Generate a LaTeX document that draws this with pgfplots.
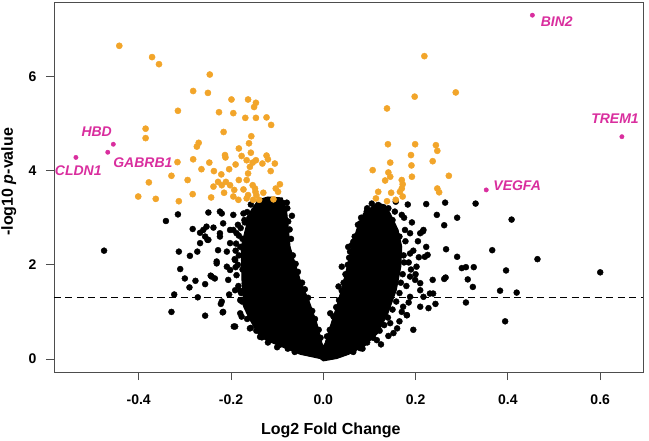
\documentclass[border=0pt]{standalone}
\usepackage{pgfplots}
\pgfplotsset{compat=1.18}
\usepackage{fontspec}
\setmainfont{Liberation Sans}
\definecolor{sigorange}{HTML}{F2A52A}
\definecolor{genepink}{HTML}{D92E9E}
\definecolor{framegray}{HTML}{4D4D4D}
\begin{document}
\begin{tikzpicture}
\path[use as bounding box] (-54bp,-69bp) rectangle (595bp,372bp);
\begin{axis}[
  scale only axis, width=589bp, height=370bp,
  xmin=-0.5835, xmax=0.6927, ymin=-0.276, ymax=7.58,
  axis line style={framegray, line width=0.9bp},
  tick style={framegray, line width=0.9bp},
  tick align=outside, major tick length=8bp,
  xtick={-0.4,-0.2,0,0.2,0.4,0.6}, ytick={0,2,4,6},
  xtick pos=bottom, ytick pos=left,
  xticklabel style={yshift=-11bp, /pgf/number format/.cd, fixed, fixed zerofill, precision=1, assume math mode=true},
  yticklabel style={xshift=-6bp, /pgf/number format/assume math mode=true},
  ticklabel style={font=\fontsize{14bp}{16bp}\selectfont\bfseries},
  xlabel={\textbf{Log2 Fold Change}},
  ylabel={\textbf{-log10 \textit{p}-value}},
  label style={font=\fontsize{16bp}{18bp}\selectfont},
  xlabel style={at={(axis description cs:0.470,-0.157)}, anchor=center},
  ylabel style={at={(axis description cs:-0.077,0.514)}, anchor=center},
  clip=false,
]
% dense core of the black cloud
\addplot[fill=black, draw=black, line width=1bp, line join=round] coordinates {
(0,-0.04) (-0.007,0.01) (-0.050,0.10) (-0.087,0.25) (-0.115,0.36) (-0.137,0.47)
(-0.160,0.85) (-0.172,1.10) (-0.176,1.60) (-0.178,2.38) (-0.160,3.10) (-0.141,3.38)
(-0.120,3.44) (-0.089,3.42) (-0.079,3.10) (-0.072,2.38) (-0.050,1.68) (-0.029,1.18)
(-0.014,0.76) (-0.003,0.34) (0,0.26) (0.004,0.34) (0.015,0.69) (0.030,1.15)
(0.040,1.50) (0.050,1.89) (0.058,2.24) (0.072,2.74) (0.087,3.09) (0.116,3.31) (0.134,3.27)
(0.145,3.09) (0.162,2.74) (0.170,2.38) (0.168,1.96) (0.158,1.46) (0.140,0.97)
(0.118,0.55) (0.090,0.28) (0.055,0.10) (0.029,0.01) (0,-0.04)
} -- cycle;
% scattered black points
\addplot[only marks, mark=*, mark size=3.0bp, black] coordinates {
(-0.475,2.30) (-0.341,2.93) (-0.315,3.07) (-0.329,1.00) (-0.323,1.37) (-0.310,1.91)
(-0.313,2.28) (-0.300,1.71) (-0.290,1.52) (-0.289,2.19) (-0.283,2.76) (-0.277,1.66)
(-0.273,2.28) (-0.272,1.31) (-0.267,2.46) (-0.267,2.68) (-0.260,2.74) (-0.256,1.59)
(-0.256,0.92) (-0.251,2.53) (-0.249,3.11) (-0.244,1.77) (-0.238,2.79) (-0.231,2.07)
(-0.235,1.71) (-0.228,2.31) (-0.222,1.17) (-0.218,0.99) (-0.224,2.60) (-0.220,3.09)
(-0.206,1.68) (-0.204,1.37) (-0.194,0.69) (-0.180,0.97) (-0.157,0.66) (-0.133,0.46)
(-0.068,3.04) (-0.086,3.31) (-0.209,2.28) (-0.202,1.89) (-0.191,2.10) (-0.195,2.74)
(-0.224,3.13) (-0.195,3.06) (-0.173,3.09) (-0.144,3.23) (-0.123,3.27) (-0.094,3.31)
(-0.079,3.32) (-0.217,2.88) (-0.224,2.67) (-0.202,2.74) (-0.188,2.67) (-0.180,2.38)
(-0.202,2.46) (-0.209,1.96) (-0.191,1.46) (-0.180,1.25) (-0.253,2.81) (-0.256,2.60)
(-0.249,2.53) (-0.231,2.03) (-0.242,1.75) (-0.220,1.22) (-0.217,1.00) (-0.177,0.90)
(-0.191,0.69) (-0.159,0.65) (-0.137,0.47)
(-0.170,2.90) (-0.160,2.60) (-0.165,2.20) (-0.175,1.90) (-0.170,1.60) (-0.185,2.00)
(-0.160,3.00) (-0.150,3.15) (-0.135,3.25) (-0.110,3.30) (-0.100,3.35) (-0.090,3.20)
(-0.155,1.10) (-0.165,0.85) (-0.145,0.60) (-0.120,0.35) (-0.100,0.25) (-0.178,1.40)
(-0.183,2.20) (-0.175,2.55) (-0.185,2.85) (-0.168,1.15)
(-0.095,0.30) (-0.118,0.45) (-0.128,0.52) (-0.140,0.70) (-0.150,0.80) (-0.158,0.95)
(-0.163,1.08) (-0.176,1.22) (-0.180,1.45) (-0.184,1.55) (-0.188,1.78) (-0.190,1.95)
(-0.192,2.12) (-0.190,2.30) (-0.189,2.45) (-0.183,2.62) (-0.179,2.78) (-0.171,2.95)
(-0.165,3.12) (-0.157,3.28) (-0.062,0.15) (-0.077,0.22)
(-0.006,0.45) (-0.010,0.62) (-0.018,0.85) (-0.024,1.02) (-0.033,1.30) (-0.040,1.48)
(-0.046,1.62) (-0.055,1.85) (-0.060,2.02) (-0.066,2.20) (-0.070,2.55) (-0.073,2.75)
(-0.076,2.92) (-0.078,3.20)
(0.600,1.84) (0.464,2.12) (0.408,2.96) (0.366,2.31) (0.396,1.88) (0.383,1.45)
(0.419,1.41) (0.394,0.80) (0.330,3.30) (0.264,3.32) (0.223,3.29) (0.246,3.06)
(0.262,2.84) (0.290,3.00) (0.266,2.33) (0.290,2.17) (0.300,1.93) (0.309,1.95)
(0.326,1.95) (0.313,1.69) (0.324,1.53) (0.309,1.20) (0.265,1.73) (0.262,1.70)
(0.237,1.68) (0.243,1.17) (0.228,1.08) (0.226,2.21) (0.207,2.16) (0.223,2.38)
(0.195,0.62) (0.181,0.93) (0.141,0.49) (0.125,0.31) (0.183,3.28) (0.157,3.34)
(0.121,3.25) (0.094,3.13) (0.210,2.67) (0.216,2.71) (0.199,1.68) (0.210,1.46)
(0.217,1.32) (0.238,1.39)
(0.119,3.27) (0.141,3.20) (0.155,3.13) (0.170,3.06) (0.080,2.88) (0.101,2.74)
(0.127,2.63) (0.177,2.74) (0.188,2.67) (0.217,2.74) (0.065,2.49) (0.058,2.28)
(0.159,2.38) (0.188,2.24) (0.202,1.96) (0.220,2.17) (0.188,1.75) (0.210,1.61)
(0.231,1.39) (0.188,1.32) (0.173,1.11) (0.210,1.11) (0.181,0.93) (0.145,0.76)
(0.152,0.55) (0.116,0.40) (0.080,0.23) (0.054,2.38) (0.040,1.96) (0.033,1.54)
(0.015,0.97) (0.185,2.05) (0.180,1.55) (0.165,0.80) (0.178,2.50)
(0.008,0.48) (0.014,0.62) (0.022,0.90) (0.028,1.10) (0.034,1.25) (0.040,1.45)
(0.044,1.62) (0.048,1.80) (0.053,2.00) (0.056,2.15) (0.062,2.42) (0.068,2.60)
(0.075,2.85) (0.082,3.00) (0.095,3.20) (0.105,3.30)
(0.150,2.95) (0.165,2.60) (0.174,2.20) (0.175,2.05) (0.172,1.80) (0.168,1.62)
(0.165,1.40) (0.158,1.22) (0.150,1.05) (0.140,0.88) (0.132,0.72) (0.122,0.60)
(0.108,0.45) (0.095,0.35) (0.085,0.22) (0.065,0.15) (0.190,1.90) (0.195,2.30)
(0.185,1.20) (0.170,1.00) (0.160,0.65) (0.200,1.80) (0.205,2.50) (0.192,2.90)
(0.175,3.00)
};
% significant (orange) points
\addplot[only marks, mark=*, mark size=3.1bp, sigorange] coordinates {
(-0.442,6.65) (-0.371,6.41) (-0.356,6.26) (-0.246,6.04) (-0.282,5.69) (-0.250,5.65)
(-0.315,5.27) (-0.199,5.51) (-0.163,5.51) (-0.146,5.44) (-0.150,5.35) (-0.226,5.24)
(-0.195,5.22) (-0.169,5.12) (-0.146,5.12) (-0.123,5.13) (-0.113,4.97) (-0.385,4.89)
(-0.385,4.69) (-0.216,4.82) (-0.156,4.73) (-0.270,4.59) (-0.274,4.51) (-0.161,4.58)
(-0.183,4.47) (-0.157,4.38) (-0.213,4.33) (-0.212,4.28) (-0.177,4.31) (-0.166,4.22)
(-0.153,4.17) (-0.146,4.22) (-0.132,4.15) (-0.123,4.32) (-0.120,4.24) (-0.105,4.15)
(-0.282,4.24) (-0.247,4.17) (-0.316,4.18) (-0.190,4.13) (-0.204,4.03) (-0.264,4.03)
(-0.237,3.99) (-0.159,4.08) (-0.163,3.94) (-0.221,3.92) (-0.114,3.99) (-0.329,3.89)
(-0.183,3.80) (-0.166,3.80) (-0.294,3.80) (-0.378,3.75) (-0.228,3.76) (-0.211,3.76)
(-0.220,3.69) (-0.238,3.66) (-0.202,3.69) (-0.153,3.69) (-0.148,3.62) (-0.094,3.71)
(-0.103,3.62) (-0.098,3.55) (-0.215,3.53) (-0.173,3.60) (-0.193,3.59) (-0.147,3.55)
(-0.130,3.53) (-0.283,3.50) (-0.401,3.45) (-0.363,3.40) (-0.313,3.35) (-0.243,3.43)
(-0.195,3.45) (-0.184,3.38) (-0.166,3.41) (-0.152,3.38) (-0.139,3.38) (-0.108,3.39)
(-0.145,3.48) (-0.163,3.48)
(0.219,6.43) (0.287,5.66) (0.198,5.57) (0.138,5.32) (0.140,4.56) (0.199,4.56)
(0.244,4.54) (0.247,4.42) (0.190,4.33) (0.145,4.17) (0.191,4.11) (0.237,4.20)
(0.107,4.01) (0.141,3.96) (0.145,3.87) (0.192,3.87) (0.272,3.89) (0.134,3.79)
(0.170,3.80) (0.172,3.71) (0.247,3.62) (0.251,3.54) (0.119,3.55) (0.147,3.53)
(0.166,3.55) (0.170,3.62) (0.114,3.41) (0.172,3.45) (0.138,3.35) (0.157,3.38)
};
% labelled genes
\addplot[only marks, mark=*, mark size=2.2bp, genepink] coordinates {
(0.453,7.30) (0.647,4.72) (0.353,3.59) (-0.455,4.56) (-0.467,4.39) (-0.536,4.28)
};
% significance threshold
\addplot[black, line width=1.5bp, dash pattern=on 7bp off 4.5bp] coordinates {(-0.5835,1.301) (0.6927,1.301)};
\begin{scope}[every node/.style={font=\fontsize{14bp}{16bp}\selectfont\bfseries\itshape, text=genepink, inner sep=0pt}]
\node at (axis cs:0.506,7.16) {BIN2};
\node at (axis cs:0.632,5.11) {TREM1};
\node at (axis cs:0.420,3.67) {VEGFA};
\node at (axis cs:-0.491,4.83) {HBD};
\node at (axis cs:-0.391,4.17) {GABRB1};
\node at (axis cs:-0.531,3.99) {CLDN1};
\end{scope}
\end{axis}
\end{tikzpicture}
\end{document}
